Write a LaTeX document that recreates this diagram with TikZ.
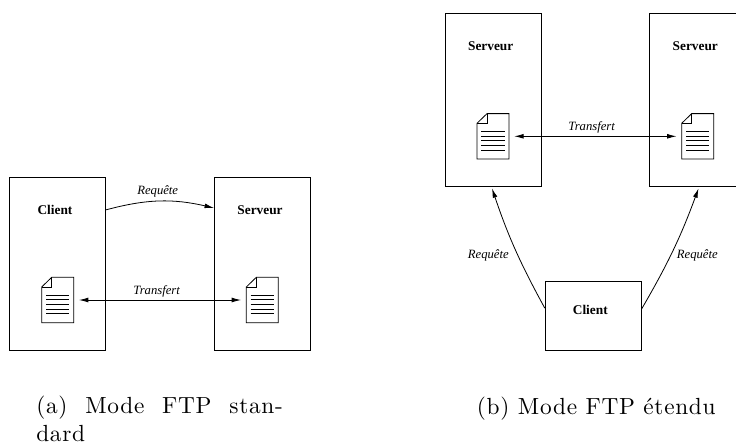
\documentclass[tikz,border=0pt]{standalone}
\usepackage{fontspec}
\newfontfamily\labelfont{Liberation Serif}
\newfontfamily\capfont[LetterSpace=3]{lmroman10-regular.otf}
\usetikzlibrary{arrows.meta}
\tikzset{
    hostbox/.style={draw, line width=0.6pt, inner sep=0pt, minimum width=72pt},
    docbox/.style={inner sep=0pt, minimum width=31.5pt, minimum height=34pt},
    hostname/.style={font=\labelfont\fontsize{10}{12}\selectfont\bfseries},
    flowname/.style={font=\labelfont\fontsize{9.5}{12}\selectfont\itshape},
    caption/.style={font=\capfont\fontsize{17.5}{21}\selectfont, inner sep=0pt, align=left},
    flow/.style={line width=0.6pt, {Latex[length=7pt,width=3.6pt]}-{Latex[length=7pt,width=3.6pt]}},
    request/.style={line width=0.6pt, -{Latex[length=7pt,width=3.6pt]}}
}
\begin{document}
\begin{tikzpicture}[x=0.75pt,y=-0.75pt]
            \useasboundingbox (0,0) rectangle (736,444);

            \foreach \n/\x/\y/\h in {cliA/57.6/263.6/129.5,srvA/262.3/263.6/129.5,srvB/492.9/99.8/129.5,srvC/697.7/99.8/129.5,cliB/593.2/315.8/51.5}{
                \node[hostbox, minimum height=\h pt] (\n) at (\x,\y) {};
            }
            \foreach \n/\x/\y/\t in {nameA/55/210/Client,nameB/260/210/Serveur,nameC/490.7/46/Serveur,nameD/695.3/46/Serveur,nameE/590.3/310/Client}{
                \node[hostname] (\n) at (\x,\y) {\t};
            }

            \foreach \n/\x/\y in {docA/57.7/300,docB/262.3/300,docC/493/136.3,docD/697.7/136.3}{
                \node[docbox] (\n) at (\x,\y) {};
                \begin{scope}[shift={(\x,\y)}, line width=0.6pt]
                \draw (-6,-22.7) -- (16,-22.7) -- (16,22.7) -- (-16,22.7) -- (-16,-13) -- cycle;
                \draw (-6,-22.7) -- (-6,-13) -- (-16,-13);
                \foreach \l in {-5,-0.3,4.4,9,13.7}{
                    \draw (-11.6,\l) -- (11.6,\l);
                }
                \end{scope}
            }

            \draw[flow] (docA) -- (docB);
            \draw[flow] (docC) -- (docD);
            \draw[request] (cliA.48.8) to[bend left=14] (srvA.131.2);
            \draw[request, shorten >=1.5pt] (cliB.171.1) to[bend left=5] (srvB.269);
            \draw[request, shorten >=1.5pt] (cliB.8.9) to[bend right=5] (srvC.271);

            \foreach \n/\x/\y/\t in {reqA/157.7/191.7/Requête,tfrA/156.7/291.7/Transfert,tfrB/591.7/127.7/Transfert,reqB/488.3/255/Requête,reqC/697.3/255/Requête}{
                \node[flowname] (\n) at (\x,\y) {\t};
            }

            \node[caption, anchor=base west, text width=185pt] (capA) at (36,413) {(a)\hfill Mode\hfill FTP\hfill stan-\\dard};
            \node[caption, anchor=base west] (capB) at (476.7,414) {(b) Mode FTP étendu};
        \end{tikzpicture}
\end{document}
